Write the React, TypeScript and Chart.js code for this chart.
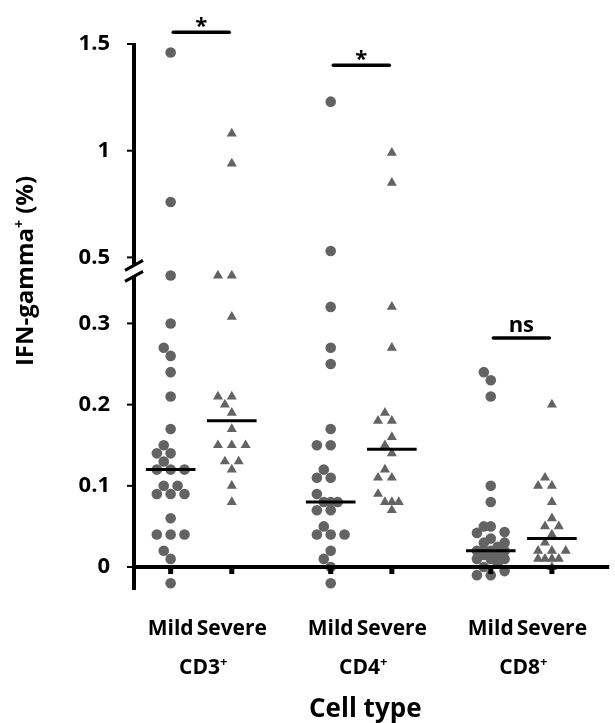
import React, { useEffect, useRef } from 'react';
import { Chart, registerables } from 'chart.js';

Chart.register(...registerables);

// ---------------- data ----------------
const cellTypes = ['CD3', 'CD4', 'CD8'];
const severityLabels = ['Mild', 'Severe'];

const cd3Mild = [1.46, 0.76, 0.445, 0.3, 0.27, 0.26, 0.24, 0.21, 0.17, 0.15, 0.14, 0.14, 0.13, 0.12, 0.12, 0.12, 0.1, 0.1, 0.09, 0.09, 0.09, 0.06, 0.04, 0.04, 0.04, 0.02, 0.01, -0.02];
const cd3Severe = [1.08, 0.94, 0.445, 0.445, 0.32, 0.21, 0.21, 0.2, 0.19, 0.17, 0.15, 0.15, 0.15, 0.13, 0.13, 0.12, 0.1, 0.08];
const cd4Mild = [1.23, 0.53, 0.35, 0.27, 0.25, 0.17, 0.15, 0.15, 0.12, 0.11, 0.11, 0.09, 0.08, 0.08, 0.08, 0.07, 0.07, 0.05, 0.04, 0.04, 0.04, 0.02, 0.01, 0.0, -0.02];
const cd4Severe = [0.99, 0.85, 0.35, 0.27, 0.19, 0.18, 0.18, 0.16, 0.15, 0.14, 0.12, 0.11, 0.11, 0.09, 0.08, 0.08, 0.08, 0.07];
const cd8Mild = [0.24, 0.23, 0.21, 0.1, 0.08, 0.05, 0.05, 0.043, 0.042, 0.035, 0.03, 0.03, 0.025, 0.02, 0.02, 0.02, 0.02, 0.015, 0.015, 0.01, 0.01, 0.01, 0.005, 0.0, -0.005, -0.01, -0.01];
const cd8Severe = [0.2, 0.11, 0.1, 0.1, 0.08, 0.06, 0.05, 0.05, 0.04, 0.03, 0.02, 0.02, 0.02, 0.01, 0.01, 0.01, 0.01, 0.0];

const yTickValues = [0, 0.1, 0.2, 0.3, 0.5, 1, 1.5];
const yTickLabels = ['0', '0.1', '0.2', '0.3', '0.5', '1', '1.5'];

const sigLevels = [1.555, 1.4, 0.282];
const sigLabels = ['*', '*', 'ns'];

const yTitleMain = 'IFN-gamma';
const yTitleSup = '+';
const yTitleTail = ' (%)';
const xTitle = 'Cell type';
const cellSup = '+';

// ---------------- layout / style ----------------
const W = 615;
const H = 723;
const PAD = { left: 134, top: 10, right: 0, bottom: 133 };
const Y_MIN = -0.0283;
const Y_MAX = 0.686;
const X_MIN = -0.42;
const X_MAX = 2.549;
const PAIR_HALF = 0.191;
const MEDIAN_HALF = 0.155;
const SIG_HALF = 0.175;

// broken axis: 0..0.3 linear, 0.3..0.5 compressed, 0.5.. compressed
const BREAK_LO = 0.3;
const BREAK_HI = 0.5;
const BREAK_SPAN = 0.0813;
const UPPER_SCALE = 0.2628;
const toDisplay = (v: number) => {
  if (v <= BREAK_LO) return v;
  if (v < BREAK_HI) return BREAK_LO + ((v - BREAK_LO) / (BREAK_HI - BREAK_LO)) * BREAK_SPAN;
  return BREAK_LO + BREAK_SPAN + (v - BREAK_HI) * UPPER_SCALE;
};

const PX_PER_X = (W - PAD.left - PAD.right) / (X_MAX - X_MIN);
const PX_PER_Y = (H - PAD.top - PAD.bottom) / (Y_MAX - Y_MIN);
const LANE_PX = 7;
const MIN_SEP = 10;

const GRAY = 'rgb(99,99,99)';
const FONT = '"Open Sans", "DejaVu Sans", sans-serif';

function swarm(values: number[], cx: number) {
  const sorted = values.map((v) => toDisplay(v)).sort((a, b) => a - b);
  const lanes = [0, -1, 1, -2, 2];
  const placed: { px: number; py: number }[] = [];
  for (const d of sorted) {
    const py = d * PX_PER_Y;
    let chosen: number | null = null;
    let fallback = 0;
    let bestDist = -1;
    for (const lane of lanes) {
      const px = lane * LANE_PX;
      let minD = Infinity;
      for (const q of placed) {
        const dd = Math.hypot(q.px - px, q.py - py);
        if (dd < minD) minD = dd;
      }
      if (minD >= MIN_SEP) {
        chosen = px;
        break;
      }
      if (minD > bestDist) {
        bestDist = minD;
        fallback = px;
      }
    }
    placed.push({ px: chosen === null ? fallback : chosen, py });
  }
  return placed.map((q) => ({ x: cx + q.px / PX_PER_X, y: q.py / PX_PER_Y }));
}

function median(values: number[]) {
  const s = [...values].sort((a, b) => a - b);
  const n = s.length;
  return n % 2 ? s[(n - 1) / 2] : (s[n / 2 - 1] + s[n / 2]) / 2;
}

function drawRich(ctx: CanvasRenderingContext2D, parts: { t: string; sup?: boolean }[], x: number, y: number, size: number, align: 'left' | 'center' | 'right') {
  const fontFor = (sup?: boolean) => `bold ${sup ? Math.round(size * 0.6) : size}px ${FONT}`;
  let total = 0;
  const widths = parts.map((p) => {
    ctx.font = fontFor(p.sup);
    const w = ctx.measureText(p.t).width;
    total += w;
    return w;
  });
  let cur = align === 'center' ? x - total / 2 : align === 'right' ? x - total : x;
  ctx.textAlign = 'left';
  ctx.textBaseline = 'alphabetic';
  parts.forEach((p, i) => {
    ctx.font = fontFor(p.sup);
    ctx.fillText(p.t, cur, p.sup ? y - size * 0.36 : y);
    cur += widths[i];
  });
}

const decorPlugin = {
  id: 'decor',
  afterDatasetsDraw(chart: any) {
    const ctx: CanvasRenderingContext2D = chart.ctx;
    const xs = chart.scales.x;
    const ys = chart.scales.y;
    const area = chart.chartArea;
    const yPix = (v: number) => ys.getPixelForValue(toDisplay(v));
    ctx.save();
    ctx.fillStyle = '#000';
    ctx.strokeStyle = '#000';

    // x axis
    const y0 = yPix(0);
    ctx.lineWidth = 4;
    ctx.lineCap = 'butt';
    ctx.beginPath();
    ctx.moveTo(area.left - 2, y0);
    ctx.lineTo(area.right, y0);
    ctx.stroke();
    // x ticks
    cellTypes.forEach((_, g) => {
      [-1, 1].forEach((s) => {
        const px = xs.getPixelForValue(g + s * PAIR_HALF);
        ctx.fillRect(px - 2.5, y0, 5, 7);
      });
    });

    // y axis with break
    const x0 = area.left;
    const topPx = yPix(1.5) - 1;
    const p05 = yPix(BREAK_HI);
    const breakA = p05 + 8;
    const breakB = p05 + 19;
    ctx.lineWidth = 4;
    ctx.beginPath();
    ctx.moveTo(x0, topPx);
    ctx.lineTo(x0, breakA);
    ctx.moveTo(x0, breakB);
    ctx.lineTo(x0, area.bottom);
    ctx.stroke();
    ctx.lineWidth = 3;
    [breakA, breakB].forEach((by) => {
      ctx.beginPath();
      ctx.moveTo(x0 - 9, by + 5);
      ctx.lineTo(x0 + 9, by - 5);
      ctx.stroke();
    });

    // y ticks + labels
    ctx.lineWidth = 2;
    yTickValues.forEach((v, i) => {
      const py = yPix(v);
      ctx.beginPath();
      ctx.moveTo(x0 - 7, py);
      ctx.lineTo(x0, py);
      ctx.stroke();
      ctx.font = `bold 22px ${FONT}`;
      ctx.textAlign = 'right';
      ctx.textBaseline = 'middle';
      ctx.fillText(yTickLabels[i], x0 - 24, py);
    });

    // category labels
    cellTypes.forEach((ct, g) => {
      severityLabels.forEach((lab, s) => {
        const px = xs.getPixelForValue(g + (s === 0 ? -PAIR_HALF : PAIR_HALF));
        ctx.font = `bold 21px ${FONT}`;
        ctx.textAlign = 'center';
        ctx.textBaseline = 'alphabetic';
        ctx.fillText(lab, px, 635);
      });
      const cx = xs.getPixelForValue(g);
      drawRich(ctx, [{ t: ct }, { t: cellSup, sup: true }], cx + 2, 674, 21, 'center');
    });

    // x title
    ctx.font = `bold 26px ${FONT}`;
    ctx.textAlign = 'center';
    ctx.textBaseline = 'alphabetic';
    ctx.fillText(xTitle, xs.getPixelForValue(1) + 4, 717);

    // y title
    ctx.save();
    ctx.translate(33, (area.top + area.bottom) / 2 - 29);
    ctx.rotate(-Math.PI / 2);
    drawRich(ctx, [{ t: yTitleMain }, { t: yTitleSup, sup: true }, { t: yTitleTail }], 0, 0, 24, 'center');
    ctx.restore();

    // significance labels
    sigLabels.forEach((lab, g) => {
      const px = xs.getPixelForValue(g);
      const py = yPix(sigLevels[g]);
      ctx.textAlign = 'center';
      ctx.textBaseline = 'alphabetic';
      if (lab === '*') {
        ctx.font = `bold 22px ${FONT}`;
        ctx.fillText(lab, px, py + 1);
      } else {
        ctx.font = `bold 22px ${FONT}`;
        ctx.fillText(lab, px, py - 6);
      }
    });

    ctx.restore();
  },
};

export default function App() {
  const ref = useRef<HTMLCanvasElement | null>(null);

  useEffect(() => {
    let chart: Chart | null = null;
    let cancelled = false;
    const groups = [
      [cd3Mild, cd3Severe],
      [cd4Mild, cd4Severe],
      [cd8Mild, cd8Severe],
    ];

    const build = () => {
      if (cancelled || !ref.current) return;
      const datasets: any[] = [];
      groups.forEach((pair, g) => {
        pair.forEach((vals, s) => {
          const cx = g + (s === 0 ? -PAIR_HALF : PAIR_HALF);
          datasets.push({
            label: `${cellTypes[g]} ${severityLabels[s]}`,
            data: swarm(vals, cx),
            pointStyle: s === 0 ? 'circle' : 'triangle',
            pointRadius: s === 0 ? 5.3 : 5.8,
            backgroundColor: GRAY,
            borderWidth: 0,
            showLine: false,
            order: 2,
          });
          const m = toDisplay(median(vals));
          datasets.push({
            label: `${cellTypes[g]} ${severityLabels[s]} median`,
            data: [
              { x: cx - MEDIAN_HALF, y: m },
              { x: cx + MEDIAN_HALF, y: m },
            ],
            showLine: true,
            borderColor: '#000',
            borderWidth: 3,
            pointRadius: 0,
            order: 1,
          });
        });
        const sy = toDisplay(sigLevels[g]);
        datasets.push({
          label: `${cellTypes[g]} significance`,
          data: [
            { x: g - SIG_HALF, y: sy },
            { x: g + SIG_HALF, y: sy },
          ],
          showLine: true,
          borderColor: '#000',
          borderWidth: 3.5,
          borderCapStyle: 'round',
          pointRadius: 0,
          order: 1,
        });
      });

      chart = new Chart(ref.current, {
        type: 'scatter',
        data: { datasets },
        options: {
          animation: false,
          responsive: false,
          devicePixelRatio: 1,
          events: [],
          layout: { padding: PAD },
          plugins: { legend: { display: false }, tooltip: { enabled: false } },
          scales: {
            x: { type: 'linear', min: X_MIN, max: X_MAX, display: false },
            y: { type: 'linear', min: Y_MIN, max: Y_MAX, display: false },
          },
        },
        plugins: [decorPlugin],
      });
    };

    const fontsReady = (document as any).fonts
      ? Promise.all([
          (document as any).fonts.load(`bold 21px "Open Sans"`),
          (document as any).fonts.load(`bold 13px "Open Sans"`),
        ]).catch(() => null)
      : Promise.resolve(null);
    fontsReady.then(build);

    return () => {
      cancelled = true;
      if (chart) chart.destroy();
    };
  }, []);

  return (
    <div style={{ position: 'absolute', left: 0, top: 0, width: W, height: H, background: '#fff' }}>
      <canvas ref={ref} width={W} height={H} style={{ width: W, height: H, display: 'block' }} />
    </div>
  );
}
